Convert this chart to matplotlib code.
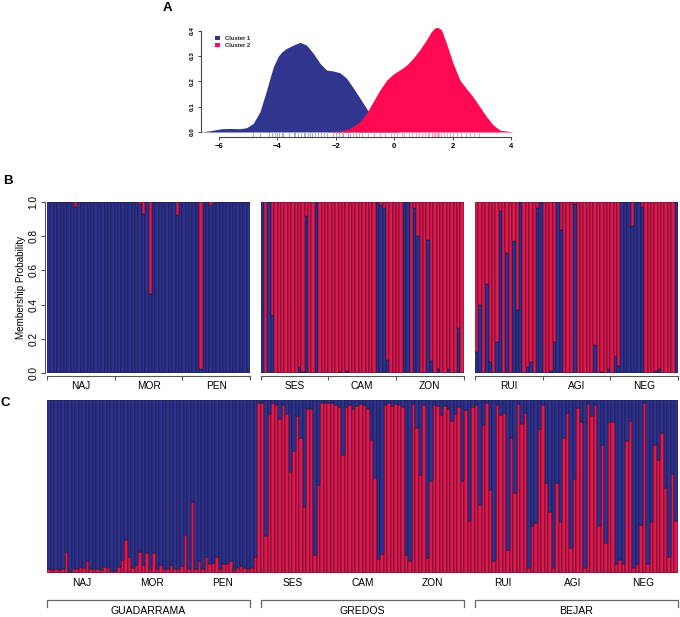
import matplotlib
matplotlib.use("Agg")
import matplotlib.pyplot as plt
import numpy as np
from matplotlib.patches import Rectangle
from matplotlib.lines import Line2D

plt.rcParams['font.family'] = ['Liberation Sans', 'DejaVu Sans']

W, H = 680, 617

# ---------------- Panel A: density curves ----------------
c1_x = [-6.63, -6.31, -5.91, -5.63, -5.28, -5.06, -4.83, -4.60, -4.37, -4.25, -4.14, -3.97,
        -3.83, -3.69, -3.46, -3.23, -3.00, -2.77, -2.54, -2.32, -2.09, -1.86, -1.63, -1.39,
        -1.17, -0.95, -0.72, -0.49, -0.15, 0.19]
c1_y = [0.0, 0.005, 0.013, 0.014, 0.013, 0.017, 0.034, 0.08, 0.166, 0.215, 0.258, 0.300,
        0.318, 0.33, 0.343, 0.354, 0.343, 0.31, 0.271, 0.245, 0.241, 0.234, 0.212, 0.172,
        0.133, 0.093, 0.054, 0.028, 0.008, 0.0]
c2_x = [-2.32, -1.86, -1.52, -1.17, -0.95, -0.72, -0.49, -0.26, -0.03, 0.19, 0.42, 0.65,
        0.87, 1.10, 1.27, 1.38, 1.45, 1.53, 1.62, 1.79, 2.02, 2.25, 2.47, 2.70, 2.93, 3.16,
        3.39, 3.62, 4.07]
c2_y = [0.0, 0.004, 0.014, 0.041, 0.074, 0.12, 0.166, 0.205, 0.229, 0.245, 0.264, 0.291,
        0.324, 0.363, 0.396, 0.410, 0.413, 0.411, 0.403, 0.35, 0.271, 0.205, 0.172, 0.139,
        0.1, 0.061, 0.028, 0.008, 0.0]
rug1 = [-4.85, -4.6, -4.3, -4.2, -4.1, -4.0, -3.95, -3.85, -3.8, -3.6, -3.45, -3.4, -3.3,
        -3.2, -3.1, -3.05, -2.95, -2.9, -2.8, -2.7, -2.6, -2.5, -2.4, -2.3, -2.1, -2.0, -1.9,
        -1.75, -1.6, -1.5, -1.3, -1.1]
rug2 = [-2.1, -1.8, -1.4, -1.2, -0.9, -0.7, -0.5, -0.3, -0.1, 0.0, 0.1, 0.25, 0.35, 0.5,
        0.6, 0.75, 0.85, 0.95, 1.05, 1.15, 1.2, 1.3, 1.35, 1.4, 1.45, 1.5, 1.55, 1.6, 1.7,
        1.8, 1.9, 2.0, 2.15, 2.3, 2.45, 2.6, 2.75, 2.9]
legend_labels = ["Cluster 1", "Cluster 2"]

# ---------------- Panel B: membership probability (cluster 1 share) ----------------
b_guad = [1, 1, 1, 1, 1, 1, 1, 1, 0.975, 1, 1, 1, 1, 1, 1, 1, 1, 1, 1, 1,
          1, 1, 1, 1, 1, 1, 1, 0.99, 0.93, 1, 0.46, 1, 1, 1, 1, 1, 1, 1, 0.925, 1,
          1, 1, 1, 1, 1, 0.02, 1, 1, 0.985, 1, 1, 1, 1, 1, 1, 1, 1, 1, 1, 1]
b_gred = [1, 0, 1, 0.34, 0, 0, 0, 0, 0, 0, 0, 0.035, 0.005, 0.92, 0, 0, 1, 0, 0, 0,
          0, 0, 0, 0.005, 0, 0.01, 0, 0, 0, 0, 0, 0, 0, 0, 0.995, 0.985, 0.965, 0.075, 0, 0,
          0, 0, 1, 1, 0, 0.965, 0.80, 0, 0, 0.78, 0.07, 0, 0.02, 0, 0, 0.02, 0, 0, 0.26, 0]
b_beja = [0.12, 0.40, 0, 0.52, 0.06, 0, 0.18, 0.95, 0, 0.70, 0, 0.77, 0.37, 1, 0, 0.035, 0.06, 0, 0.965, 1,
          0, 0, 0.01, 0.18, 1, 0.84, 0, 0, 0, 0.99, 0, 0, 0, 0, 0, 0.16, 0, 0.005, 0, 0.02,
          0, 0.10, 0.04, 1, 1, 1, 0.86, 1, 1, 0.97, 0, 0, 0, 0.01, 0.02, 0, 0, 0, 0, 1]

# ---------------- Panel C: cluster 2 share (red, from bottom) ----------------
c_red = [0.02, 0.015, 0.02, 0.015, 0.02, 0.12, 0.005, 0.025, 0.02, 0.035,
         0.025, 0.07, 0.02, 0.02, 0.02, 0.015, 0.035, 0.025, 0.01, 0.01,
         0.035, 0.075, 0.19, 0.09, 0.03, 0.045, 0.12, 0.045, 0.115, 0.02,
         0.115, 0.02, 0.045, 0.02, 0.02, 0.045, 0.02, 0.02, 0.04, 0.22,
         0.02, 0.41, 0.02, 0.065, 0.02, 0.09, 0.05, 0.055, 0.09, 0.02,
         0.05, 0.05, 0.065, 0.015, 0.03, 0.04, 0.03, 0.02, 0.025, 0.09,
         0.985, 0.98, 0.21, 0.92, 0.985, 0.97, 0.89, 0.97, 0.92, 0.585,
         0.705, 0.91, 0.78, 0.38, 0.95, 0.95, 0.10, 0.51, 0.98, 0.98,
         0.98, 0.98, 0.97, 0.96, 0.68, 0.96, 0.97, 0.945, 0.965, 0.975,
         0.97, 0.95, 0.77, 0.55, 0.08, 0.11, 0.97, 0.985, 0.965, 0.975,
         0.97, 0.96, 0.10, 0.065, 0.975, 0.835, 0.565, 0.97, 0.085, 0.53,
         0.97, 0.965, 0.915, 0.965, 0.95, 0.88, 0.92, 0.96, 0.53, 0.94,
         0.30, 0.96, 0.97, 0.39, 0.855, 0.985, 0.48, 0.07, 0.97, 0.915,
         0.925, 0.13, 0.78, 0.46, 0.975, 0.86, 0.925, 0.03, 0.27, 0.285,
         0.83, 0.97, 0.52, 0.35, 0.025, 0.52, 0.295, 0.78, 0.925, 0.145,
         0.54, 0.955, 0.87, 0.03, 0.975, 0.905, 0.97, 0.27, 0.74, 0.17,
         0.87, 0.87, 0.05, 0.075, 0.05, 0.76, 0.88, 0.025, 0.05, 0.275,
         0.985, 0.05, 0.295, 0.74, 0.65, 0.81, 0.49, 0.09, 0.57, 0.30]

pops = ["NAJ", "MOR", "PEN", "SES", "CAM", "ZON", "RUI", "AGI", "NEG"]
regions = ["GUADARRAMA", "GREDOS", "BEJAR"]
y_ticks = [0.0, 0.2, 0.4, 0.6, 0.8, 1.0]

BLUE_A, RED_A = '#31358F', '#FF0A52'
BLUE, RED = '#2E3190', '#E3174C'
EDGE = '#15152a'

fig = plt.figure(figsize=(W / 100, H / 100), dpi=100)


def ax_px(l, t, r, b):
    return fig.add_axes([l / W, 1 - b / H, (r - l) / W, (b - t) / H])


def fx(x):
    return x / W


def fy(y):
    return 1 - y / H


# ---- Panel A
axA = ax_px(200.7, 26, 513, 137)
axA.set_xlim(-6.63, 4.07)
axA.set_ylim(-0.0197, 0.4185)
axA.fill_between(c1_x, 0, c1_y, color=BLUE_A, lw=0)
axA.fill_between(c2_x, 0, c2_y, color=RED_A, lw=0)
for v in rug1:
    axA.plot([v, v], [-0.0197, 0], color='#9aa0d8', lw=0.6)
for v in rug2:
    axA.plot([v, v], [-0.0197, 0], color='#ff8fb0', lw=0.6)
for s in ['top', 'right']:
    axA.spines[s].set_visible(False)
axA.spines['bottom'].set_bounds(-6, 4)
axA.spines['left'].set_bounds(0, 0.4)
for s in ['bottom', 'left']:
    axA.spines[s].set_color('#444444')
    axA.spines[s].set_linewidth(0.8)
axA.set_xticks([-6, -4, -2, 0, 2, 4])
axA.set_yticks([0.0, 0.1, 0.2, 0.3, 0.4])
axA.set_yticklabels(["0.0", "0.1", "0.2", "0.3", "0.4"], rotation=90, va='center',
                    fontsize=4.6, fontweight='bold')
axA.set_xticklabels(["\u22126", "\u22124", "\u22122", "0", "2", "4"], fontsize=5.5,
                    fontweight='bold')
axA.tick_params(axis='both', length=2.5, width=0.7, color='#444444', pad=1.5)

# legend
for i, (lab, col) in enumerate(zip(legend_labels, [BLUE_A, RED_A])):
    yc = 38 + i * 7.3
    fig.add_artist(Rectangle((fx(215), fy(yc + 2)), 5 / W, 4 / H, transform=fig.transFigure,
                             color=col, lw=0))
    fig.text(fx(225), fy(yc), lab, fontsize=4.2, va='center', ha='left', fontweight='bold',
             color='#222222')

fig.text(fx(167), fy(8), "A", fontsize=9.5, fontweight='bold', ha='center', va='center')
fig.text(fx(8), fy(181), "B", fontsize=9.5, fontweight='bold', ha='center', va='center')
fig.text(fx(5), fy(403), "C", fontsize=9.5, fontweight='bold', ha='center', va='center')

# ---- Panel B
b_lefts = [47, 260.7, 475]
b_data = [b_guad, b_gred, b_beja]
for k in range(3):
    ax = ax_px(b_lefts[k], 202.3, b_lefts[k] + 203, 372.7)
    vals = np.array(b_data[k], dtype=float)
    xs = np.arange(len(vals))
    ax.bar(xs, vals, width=1, align='edge', color=BLUE, edgecolor=EDGE, lw=0.35)
    ax.bar(xs, 1 - vals, bottom=vals, width=1, align='edge', color=RED, edgecolor=EDGE, lw=0.35)
    ax.set_xlim(0, len(vals))
    ax.set_ylim(0, 1)
    for s in ['top', 'right']:
        ax.spines[s].set_visible(False)
    ax.spines['bottom'].set_position(('outward', 2.5))
    ax.spines['bottom'].set_color('#555555')
    ax.spines['bottom'].set_linewidth(0.8)
    ax.set_xticks([0, 20, 40, 60])
    ax.set_xticklabels([])
    ax.set_xticks([10, 30, 50], minor=True)
    ax.set_xticklabels(pops[3 * k:3 * k + 3], minor=True, fontsize=7.3)
    ax.tick_params(axis='x', which='major', length=3, width=0.8, color='#555555')
    ax.tick_params(axis='x', which='minor', length=0, pad=3.5)
    if k == 0:
        ax.spines['left'].set_position(('outward', 1.5))
        ax.spines['left'].set_color('#555555')
        ax.spines['left'].set_linewidth(0.8)
        ax.set_yticks(y_ticks)
        ax.set_yticklabels(["0.0", "0.2", "0.4", "0.6", "0.8", "1.0"], rotation=90,
                           va='center', fontsize=7.3)
        ax.tick_params(axis='y', length=3, width=0.8, color='#555555', pad=1.5)
        ax.set_ylabel("Membership Probability", fontsize=7.1, labelpad=2)
    else:
        ax.spines['left'].set_visible(False)
        ax.set_yticks([])

# ---- Panel C
axC = ax_px(47, 400, 678, 572.7)
red = np.array(c_red, dtype=float)
xs = np.arange(len(red))
axC.bar(xs, red, width=1, align='edge', color=RED, edgecolor=EDGE, lw=0.35)
axC.bar(xs, 1 - red, bottom=red, width=1, align='edge', color=BLUE, edgecolor=EDGE, lw=0.35)
axC.set_xlim(0, len(red))
axC.set_ylim(0, 1)
for s in axC.spines.values():
    s.set_visible(False)
axC.set_yticks([])
axC.set_xticks([10 + 20 * i for i in range(9)])
axC.set_xticklabels(pops, fontsize=7.3)
axC.tick_params(axis='x', length=0, pad=4)

# brackets
for k, (l, r) in enumerate([(47, 250), (260.7, 464), (475, 677.5)]):
    ytop, ybot = 599.5, 606.5
    fig.add_artist(Line2D([fx(l), fx(l), fx(r), fx(r)], [fy(ybot), fy(ytop), fy(ytop), fy(ybot)],
                          transform=fig.transFigure, color='#666666', lw=0.9))
    fig.text(fx((l + r) / 2), fy(611.5), regions[k], fontsize=7.6, ha='center', va='center')

fig.savefig("out.png", dpi=100)
